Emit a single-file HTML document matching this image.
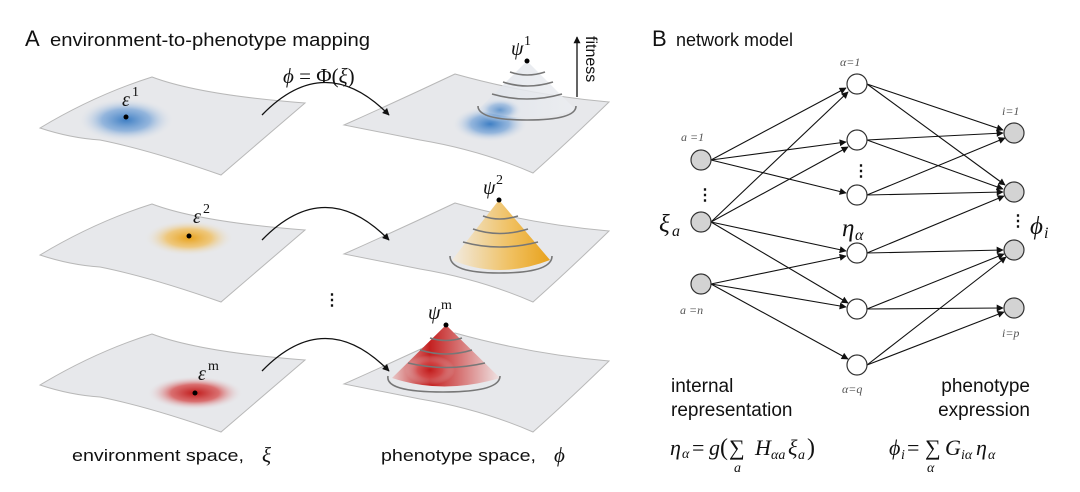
<!DOCTYPE html>
<html><head><meta charset="utf-8"><style>
html,body{margin:0;padding:0;background:#fff}
svg{display:block}
.s{font-family:"Liberation Sans",sans-serif;fill:#111}
.m{font-family:"Liberation Serif",serif;font-style:italic;fill:#111}
.mr{font-family:"Liberation Serif",serif;fill:#111}
.sl{font-family:"Liberation Serif",serif;font-style:italic;fill:#555}
</style></head><body>
<svg width="1080" height="492" viewBox="0 0 1080 492" xmlns="http://www.w3.org/2000/svg">
<defs>
<marker id="ah" viewBox="0 0 10 10" refX="9" refY="5" markerWidth="9" markerHeight="7" orient="auto" markerUnits="userSpaceOnUse"><path d="M0,0 L10,5 L0,10 z" fill="#111"/></marker>
<radialGradient id="gb"><stop offset="0" stop-color="#3f7fc4"/><stop offset="0.5" stop-color="#7fa9d9" stop-opacity="0.8"/><stop offset="1" stop-color="#e6e8ec" stop-opacity="0"/></radialGradient>
<radialGradient id="go"><stop offset="0" stop-color="#e8a21c"/><stop offset="0.5" stop-color="#f0bf60" stop-opacity="0.8"/><stop offset="1" stop-color="#e6e8ec" stop-opacity="0"/></radialGradient>
<radialGradient id="gr"><stop offset="0" stop-color="#c01a1a"/><stop offset="0.5" stop-color="#d65050" stop-opacity="0.8"/><stop offset="1" stop-color="#e6e8ec" stop-opacity="0"/></radialGradient>
<linearGradient id="cb" x1="0" y1="0" x2="1" y2="0"><stop offset="0" stop-color="#dfe3ea"/><stop offset="1" stop-color="#eceef1"/></linearGradient>
<linearGradient id="co" x1="0" y1="0" x2="1" y2="0"><stop offset="0" stop-color="#f1ebe2"/><stop offset="0.6" stop-color="#f0c060"/><stop offset="1" stop-color="#e8a21c"/></linearGradient>
<linearGradient id="cr" x1="0" y1="0" x2="1" y2="0"><stop offset="0" stop-color="#e8c8c8"/><stop offset="0.35" stop-color="#c42020"/><stop offset="1" stop-color="#efe4e4"/></linearGradient>
<g id="env"><path d="M40,128 Q95,95 152,77 Q200,95 305,103 Q262,140 221,175 Q150,150 100,140 Q70,138 40,128 Z" fill="#e7e8eb" stroke="#b8b8b8" stroke-width="1"/></g>
<g id="phe"><path d="M344,125 Q400,100 455,74 Q530,95 609,102 Q570,140 533,173 Q480,150 420,140 Q380,132 344,125 Z" fill="#e7e8eb" stroke="#b8b8b8" stroke-width="1"/></g>
</defs>

<text x="25" y="46" class="s" font-size="22">A</text>
<text x="50" y="46" class="s" font-size="18" textLength="320" lengthAdjust="spacingAndGlyphs">environment-to-phenotype mapping</text>
<text x="283" y="83" class="mr" font-size="21"><tspan font-style="italic">ϕ</tspan> = Φ(<tspan font-style="italic">ξ</tspan>)</text>

<!-- Row 1 -->
<use href="#env"/>
<ellipse cx="126" cy="120" rx="48" ry="22" fill="url(#gb)"/>
<circle cx="126" cy="117" r="2.5" fill="#000"/>
<text x="122" y="106" class="m" font-size="20">ε</text><text x="132" y="96" class="mr" font-size="14">1</text>
<use href="#phe"/>
<ellipse cx="490" cy="124" rx="38" ry="18" fill="url(#gb)"/>
<path d="M527,61 L478,110 Q527,125 576,110 Z" fill="url(#cb)" opacity="0.85"/>
<ellipse cx="500" cy="110" rx="22" ry="12" fill="url(#gb)" opacity="0.75"/>
<g fill="none" stroke="#777" stroke-width="1.6">
<path d="M510,72 Q527,78 545,72"/><path d="M503,82 Q527,90 553,82"/><path d="M492,94 Q527,104 562,94"/><path d="M478,106 Q478,120 527,120 Q576,120 576,106"/>
</g>
<circle cx="527" cy="61" r="2.5" fill="#000"/>
<text x="511" y="55" class="m" font-size="20">ψ</text><text x="524" y="45" class="mr" font-size="14">1</text>
<line x1="577" y1="97" x2="577" y2="37" stroke="#111" stroke-width="1.3" marker-end="url(#ah)"/>
<text transform="translate(586,36) rotate(90)" class="s" font-size="16">fitness</text>
<path d="M262,115 Q325,50 389,115" fill="none" stroke="#111" stroke-width="1.3" marker-end="url(#ah)"/>

<!-- Row 2 -->
<use href="#env" transform="translate(0,127)"/>
<ellipse cx="189" cy="238" rx="45" ry="18" fill="url(#go)"/>
<circle cx="189" cy="236" r="2.5" fill="#000"/>
<text x="193" y="223" class="m" font-size="20">ε</text><text x="203" y="213" class="mr" font-size="14">2</text>
<use href="#phe" transform="translate(0,129)"/>
<path d="M499,200 L452,260 Q499,280 550,260 Z" fill="url(#co)"/>
<g fill="none" stroke="#777" stroke-width="1.6">
<path d="M483,216 Q499,222 518,216"/><path d="M473,229 Q499,238 528,229"/><path d="M463,242 Q499,252 538,242"/><path d="M450,256 Q450,273 499,273 Q552,273 552,256"/>
</g>
<circle cx="499" cy="200" r="2.5" fill="#000"/>
<text x="483" y="194" class="m" font-size="20">ψ</text><text x="496" y="184" class="mr" font-size="14">2</text>
<path d="M262,240 Q325,175 389,240" fill="none" stroke="#111" stroke-width="1.3" marker-end="url(#ah)"/>

<text x="324" y="305" class="s" font-size="16" font-weight="bold">⋮</text>

<!-- Row 3 -->
<use href="#env" transform="translate(0,257)"/>
<ellipse cx="195" cy="393" rx="48" ry="17" fill="url(#gr)"/>
<circle cx="195" cy="393" r="2.5" fill="#000"/>
<text x="198" y="380" class="m" font-size="20">ε</text><text x="208" y="370" class="mr" font-size="14">m</text>
<use href="#phe" transform="translate(0,259)"/>
<path d="M446,325 L392,378 Q443,395 500,378 Z" fill="url(#cr)"/>
<ellipse cx="430" cy="370" rx="25" ry="15" fill="url(#gr)" opacity="0.8"/>
<g fill="none" stroke="#777" stroke-width="1.6">
<path d="M430,338 Q446,343 462,338"/><path d="M420,350 Q446,358 472,350"/><path d="M408,363 Q446,372 485,363"/><path d="M388,376 Q385,392 443,392 Q500,392 500,376"/>
</g>
<circle cx="446" cy="325" r="2.5" fill="#000"/>
<text x="428" y="319" class="m" font-size="20">ψ</text><text x="441" y="309" class="mr" font-size="14">m</text>
<path d="M262,371 Q325,306 389,371" fill="none" stroke="#111" stroke-width="1.3" marker-end="url(#ah)"/>

<text x="72" y="461" class="s" font-size="17" textLength="172" lengthAdjust="spacingAndGlyphs">environment space,</text>
<text x="262" y="462" class="m" font-size="21">ξ</text>
<text x="381" y="461" class="s" font-size="17" textLength="155" lengthAdjust="spacingAndGlyphs">phenotype space,</text>
<text x="554" y="462" class="m" font-size="21">ϕ</text>

<!-- Panel B -->
<text x="652" y="46" class="s" font-size="22">B</text>
<text x="676" y="46" class="s" font-size="18">network model</text>

<g stroke="#111" stroke-width="1.1" fill="none" marker-end="url(#ah)">
<line x1="711" y1="160" x2="846" y2="88"/>
<line x1="711" y1="160" x2="846" y2="142"/>
<line x1="711" y1="160" x2="846" y2="193"/>
<line x1="711" y1="222" x2="848" y2="92"/>
<line x1="711" y1="222" x2="848" y2="147"/>
<line x1="711" y1="222" x2="846" y2="251"/>
<line x1="711" y1="222" x2="848" y2="303"/>
<line x1="711" y1="284" x2="846" y2="256"/>
<line x1="711" y1="284" x2="846" y2="307"/>
<line x1="711" y1="284" x2="848" y2="359"/>
<line x1="867" y1="84" x2="1003" y2="130"/>
<line x1="867" y1="84" x2="1005" y2="185"/>
<line x1="867" y1="140" x2="1003" y2="133"/>
<line x1="867" y1="140" x2="1003" y2="189"/>
<line x1="867" y1="195" x2="1005" y2="138"/>
<line x1="867" y1="195" x2="1003" y2="192"/>
<line x1="867" y1="253" x2="1004" y2="196"/>
<line x1="867" y1="253" x2="1003" y2="250"/>
<line x1="867" y1="309" x2="1004" y2="254"/>
<line x1="867" y1="309" x2="1003" y2="308"/>
<line x1="867" y1="365" x2="1006" y2="257"/>
<line x1="867" y1="365" x2="1004" y2="312"/>
</g>
<g stroke="#333" stroke-width="1.2">
<circle cx="701" cy="160" r="10" fill="#d3d3d3"/>
<circle cx="701" cy="222" r="10" fill="#d3d3d3"/>
<circle cx="701" cy="284" r="10" fill="#d3d3d3"/>
<circle cx="857" cy="84" r="10" fill="#fff"/>
<circle cx="857" cy="140" r="10" fill="#fff"/>
<circle cx="857" cy="195" r="10" fill="#fff"/>
<circle cx="857" cy="253" r="10" fill="#fff"/>
<circle cx="857" cy="309" r="10" fill="#fff"/>
<circle cx="857" cy="365" r="10" fill="#fff"/>
<circle cx="1014" cy="133" r="10" fill="#d3d3d3"/>
<circle cx="1014" cy="192" r="10" fill="#d3d3d3"/>
<circle cx="1014" cy="250" r="10" fill="#d3d3d3"/>
<circle cx="1014" cy="308" r="10" fill="#d3d3d3"/>
</g>
<text x="697" y="200" class="s" font-size="16" font-weight="bold">⋮</text>
<text x="853" y="176" class="s" font-size="16" font-weight="bold">⋮</text>
<text x="1010" y="226" class="s" font-size="16" font-weight="bold">⋮</text>

<text x="681" y="141" class="sl" font-size="12">a =1</text>
<text x="680" y="314" class="sl" font-size="12">a =n</text>
<text x="840" y="66" class="sl" font-size="12">α=1</text>
<text x="842" y="393" class="sl" font-size="12">α=q</text>
<text x="1002" y="115" class="sl" font-size="12">i=1</text>
<text x="1002" y="337" class="sl" font-size="12">i=p</text>
<text x="659" y="232" class="m" font-size="25">ξ</text><text x="672" y="236" class="m" font-size="16">a</text>
<text x="842" y="236" class="m" font-size="25">η</text><text x="855" y="240" class="m" font-size="16">α</text>
<text x="1030" y="234" class="m" font-size="25">ϕ</text><text x="1044" y="238" class="m" font-size="16">i</text>

<text x="671" y="392" class="s" font-size="19">internal</text>
<text x="671" y="416" class="s" font-size="19">representation</text>
<text x="1030" y="392" class="s" font-size="19" text-anchor="end">phenotype</text>
<text x="1030" y="416" class="s" font-size="19" text-anchor="end">expression</text>

<text x="670" y="455" class="m" font-size="22">η</text><text x="682" y="458" class="m" font-size="14">α</text>
<text x="692" y="455" class="mr" font-size="22">=</text>
<text x="709" y="455" class="m" font-size="22">g</text>
<text x="720" y="455" class="mr" font-size="24">(</text>
<text x="729" y="455" class="mr" font-size="22">∑</text>
<text x="755" y="455" class="m" font-size="22">H</text><text x="771" y="459" class="m" font-size="14">αa</text>
<text x="788" y="455" class="m" font-size="22">ξ</text><text x="798" y="459" class="m" font-size="14">a</text>
<text x="807" y="455" class="mr" font-size="24">)</text>
<text x="734" y="472" class="m" font-size="14">a</text>

<text x="889" y="455" class="m" font-size="22">ϕ</text><text x="901" y="459" class="m" font-size="14">i</text>
<text x="907" y="455" class="mr" font-size="22">=</text>
<text x="925" y="455" class="mr" font-size="22">∑</text>
<text x="945" y="455" class="m" font-size="22">G</text><text x="961" y="459" class="m" font-size="14">iα</text>
<text x="976" y="455" class="m" font-size="22">η</text><text x="988" y="459" class="m" font-size="14">α</text>
<text x="927" y="472" class="m" font-size="14">α</text>
</svg>
</body></html>
